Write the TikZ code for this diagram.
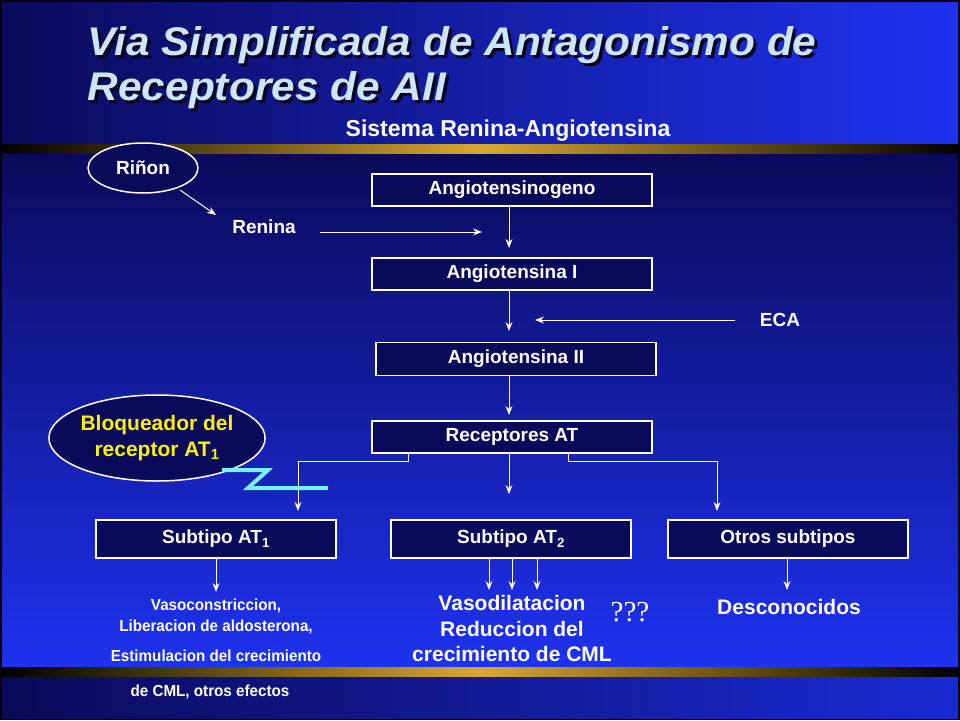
\documentclass[tikz,border=0pt]{standalone}
\usepackage{fontspec}
\setmainfont{Liberation Sans}
\usetikzlibrary{arrows.meta,shapes.geometric}
\definecolor{navy}{HTML}{0A0A5A}
\definecolor{bblue}{HTML}{1E32F0}
\definecolor{gold}{HTML}{D8A830}
\definecolor{ttl}{HTML}{CDE6FF}
\begin{document}
\begin{tikzpicture}[x=1pt,y=-1pt,
  box/.style={draw=white,line width=1.5pt,fill=navy,minimum width=280pt,minimum height=32pt,text=white,font=\bfseries\fontsize{19}{21}\selectfont},
  sbox/.style={box,minimum width=240pt,minimum height=38pt},
  arr/.style={draw=white,line width=1pt,-{Stealth[length=9pt,width=7pt]}},
  lbl/.style={text=white,font=\bfseries\fontsize{20}{22}\selectfont},
  big/.style={text=white,font=\bfseries\fontsize{21}{23}\selectfont},
  sm/.style={text=white,font=\bfseries\fontsize{16}{18}\selectfont}]
\useasboundingbox (0,0) rectangle (960,720);
\fill[black] (0,0) rectangle (960,720);
\shade[left color=navy,right color=bblue] (2,2) rectangle (958,144);
\shade[top color=navy,bottom color=bblue] (2,152) rectangle (958,667);
\shade[left color=navy,right color=bblue!80!navy] (2,676) rectangle (958,718);
\shade[left color=black,right color=gold] (0,144) rectangle (480,153);
\shade[left color=gold,right color=black] (480,144) rectangle (960,153);
\shade[left color=black,right color=gold] (0,667) rectangle (480,676);
\shade[left color=gold,right color=black] (480,667) rectangle (960,676);
% title
\foreach \t/\yy in {{Via Simplificada de Antagonismo de}/45,{Receptores de AII}/90}{
  \node[anchor=west,text=black!70!navy,xscale=1.06,font=\bfseries\itshape\fontsize{40}{42}\selectfont] at (87,\yy+3) {\t};
  \node[anchor=west,text=ttl,xscale=1.06,font=\bfseries\itshape\fontsize{40}{42}\selectfont] at (84,\yy) {\t};
}
\node[text=white,font=\bfseries\fontsize{23}{25}\selectfont] (sub) at (508,131) {Sistema Renina-Angiotensina};
% nodes
\node[box] (ag) at (512,190) {Angiotensinogeno};
\node[box] (a1) at (512,274) {Angiotensina I};
\node[box,minimum height=33pt] (a2) at (516,359) {Angiotensina II};
\node[box] (rat) at (512,437) {Receptores AT};
\node[sbox] (s1) at (216,539) {Subtipo AT\textsubscript{1}};
\node[sbox] (s2) at (511,539) {Subtipo AT\textsubscript{2}};
\node[sbox] (s3) at (788,539) {Otros subtipos};
\node[draw=white,line width=1.5pt,fill=navy,ellipse,minimum width=110pt,minimum height=50pt,inner sep=1pt,font=\bfseries\fontsize{19}{21}\selectfont,text=white] (rin) at (143,168) {Riñon};
\node[box,draw=none,fill=none] (ren) at (264,227) {Renina};
\node[box,draw=none,fill=none,minimum width=0pt] (eca) at (780,320) {ECA};
\node[draw=white,line width=1.5pt,fill=navy,ellipse,minimum width=200pt,minimum height=86pt,inner sep=0pt,align=center,text=yellow,font=\bfseries\fontsize{21}{26}\selectfont] (blo) at (157,438) {Bloqueador del\\receptor AT\textsubscript{1}};
% arrows
\coordinate (r1) at (180,190); \coordinate (r2) at (216,215);
\draw[arr] (r1) -- (r2);
\coordinate (rs) at (320,232); \coordinate (re) at (482,232);
\draw[arr] (rs) -- (re);
\coordinate (es) at (735,320); \coordinate (ee) at (535,320);
\draw[arr] (es) -- (ee);
\draw[arr] (ag.south -| 509,0) -- (509,248);
\draw[arr] (a1.south -| 509,0) -- (509,331);
\draw[arr] (a2.south -| 509,0) -- (509,415);
\draw[arr] (rat.south -| 509,0) -- (509,494);
\draw[arr] (rat.south -| 408,0) -- (408,461) -- (298,461) -- (298,511);
\draw[arr] (rat.south -| 568,0) -- (568,461) -- (717,461) -- (717,511);
\draw[draw=ttl!60!cyan,line width=4pt] (222,470) -- (268,470) -- (248,488) -- (328,488);
\draw[arr] (s1.south -| 216,0) -- (216,592);
\foreach \xx in {489,512,537} \draw[arr] (s2.south -| \xx,0) -- (\xx,590);
\draw[arr] (s3.south -| 787,0) -- (787,590);
% effect texts
\node[sm,xscale=0.95] (e1) at (216,606) {Vasoconstriccion,};
\node[sm,xscale=0.95] (e2) at (216,627) {Liberacion de aldosterona,};
\node[sm,xscale=0.95] (e3) at (216,656) {Estimulacion del crecimiento};
\node[sm,xscale=0.95] (e4) at (210,692) {de CML, otros efectos};
\node[big] (v1) at (512,603) {Vasodilatacion};
\node[big] (v2) at (512,629) {Reduccion del};
\node[big] (v3) at (512,654) {crecimiento de CML};
\node[text=white,font=\fontspec{Liberation Serif}\fontsize{29}{31}\selectfont] (q) at (630,612) {???};
\node[big] (des) at (789,607) {Desconocidos};
\end{tikzpicture}
\end{document}
